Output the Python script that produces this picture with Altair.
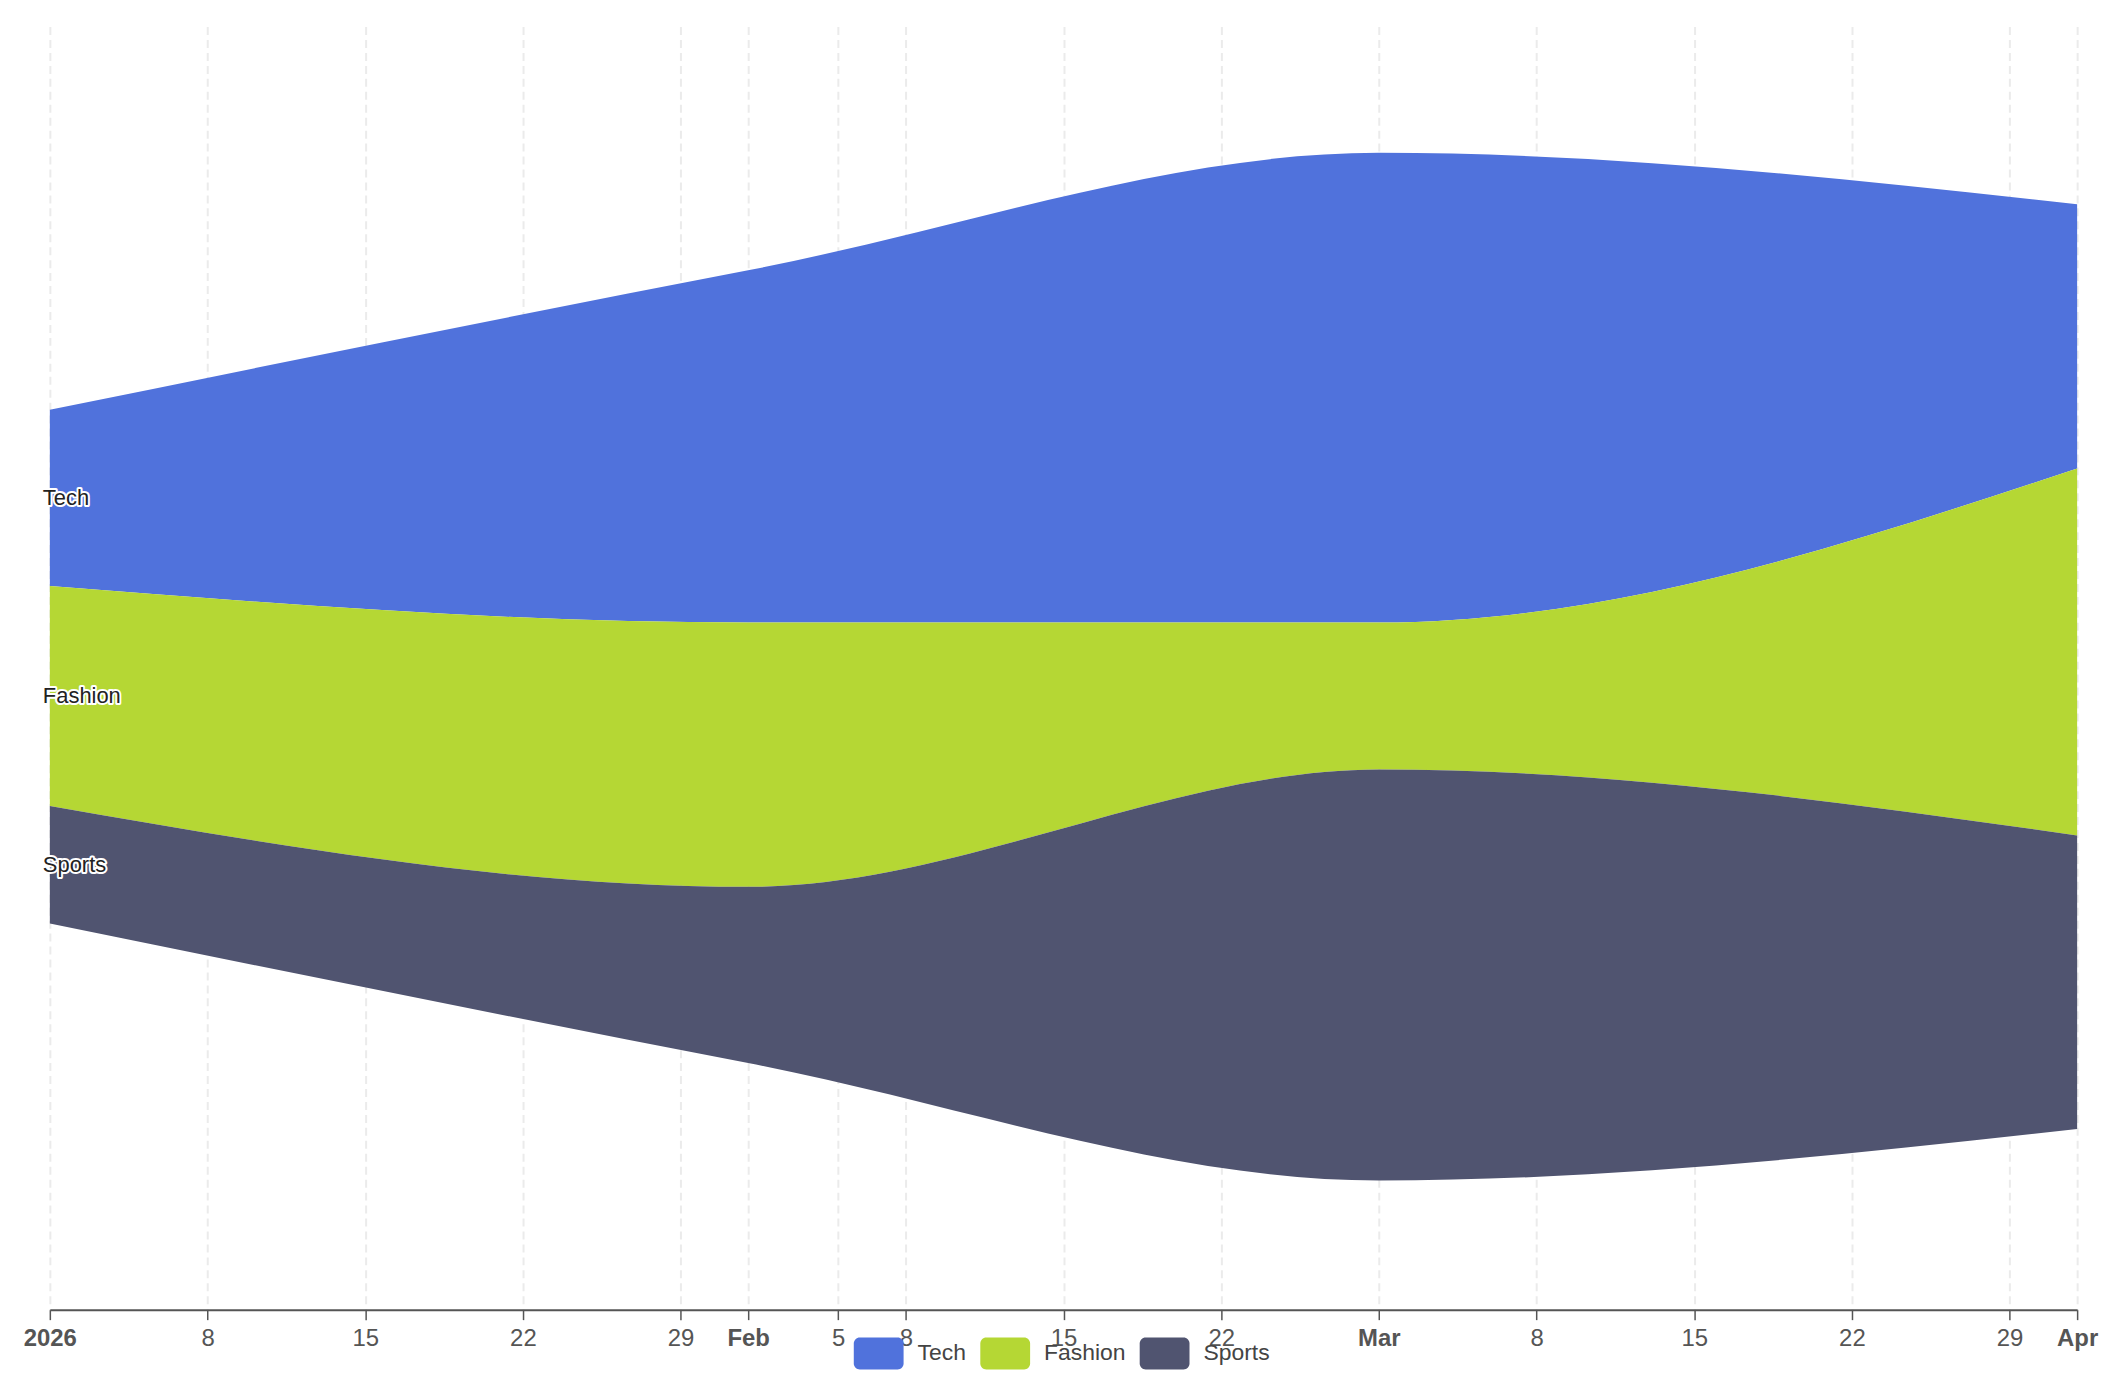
import altair as alt
import pandas as pd

# ---- data ----
day_index = [0, 31, 59, 90]          # Jan 1, Feb 1, Mar 1, Apr 1 2026 (days since Jan 1)
series_names = ["Tech", "Fashion", "Sports"]
tech = [120, 240, 320, 180]
fashion = [150, 180, 100, 250]
sports = [80, 120, 280, 200]
stack_order = {"Sports": 0, "Fashion": 1, "Tech": 2}
colors = ["#5072DC", "#B5D734", "#505470"]

tick_days = [0, 7, 14, 21, 28, 31, 35, 38, 45, 52, 59, 66, 73, 80, 87, 90]
tick_labels = ["2026", "8", "15", "22", "29", "Feb", "5", "8", "15", "22",
               "Mar", "8", "15", "22", "29", "Apr"]
bold_days = [0, 31, 59, 90]

rows = []
for name, vals in zip(series_names, [tech, fashion, sports]):
    for d, v in zip(day_index, vals):
        rows.append({"day": d, "series": name, "value": v, "order": stack_order[name]})
df = pd.DataFrame(rows)

FONT = "Liberation Sans"

days_js = "[" + ",".join(str(d) for d in tick_days) + "]"
labels_js = "[" + ",".join("'" + s + "'" for s in tick_labels) + "]"
bold_js = "[" + ",".join(str(d) for d in bold_days) + "]"

sym_path = ("M -0.76,-0.64 L 0.76,-0.64 A 0.24,0.24 0 0 1 1,-0.4 L 1,0.4 "
            "A 0.24,0.24 0 0 1 0.76,0.64 L -0.76,0.64 A 0.24,0.24 0 0 1 -1,0.4 "
            "L -1,-0.4 A 0.24,0.24 0 0 1 -0.76,-0.64 Z")

base = alt.Chart(df).transform_stack(
    stack="value",
    groupby=["day"],
    as_=["y0", "y1"],
    offset="center",
    sort=[alt.SortField("order", "ascending")],
)

x_enc = alt.X(
    "day:Q",
    scale=alt.Scale(domain=[0, 90], nice=False, zero=False),
    axis=alt.Axis(
        values=tick_days,
        labelExpr=f"{labels_js}[indexof({days_js}, datum.value)]",
        labelFontWeight={"condition": {"test": f"indexof({bold_js}, datum.value) >= 0",
                                       "value": "bold"},
                         "value": "normal"},
        title=None,
        grid=True,
        gridDash=[8, 5],
        gridColor="#ebebeb",
        gridWidth=2,
        domainColor="#555555",
        domainWidth=2,
        tickColor="#555555",
        tickWidth=1.5,
        tickSize=10,
        labelColor="#555555",
        labelFontSize=24,
        labelFont=FONT,
        labelPadding=7,
        labelFlush=False,
        labelOverlap=False,
    ),
)

y_scale = alt.Scale(domain=[-88, 786], nice=False, zero=False)

area = base.mark_area(interpolate="monotone", opacity=1).encode(
    x=x_enc,
    y=alt.Y("y1:Q", scale=y_scale, axis=None),
    y2="y0:Q",
    color=alt.Color(
        "series:N",
        scale=alt.Scale(domain=series_names, range=colors),
        legend=alt.Legend(
            orient="none",
            legendX=807,
            legendY=1307,
            direction="horizontal",
            title=None,
            symbolType=sym_path,
            symbolSize=2500,
            symbolStrokeWidth=0,
            symbolOpacity=1,
            labelFontSize=23,
            labelFont=FONT,
            labelColor="#444444",
            labelOffset=14,
            columnPadding=14,
            padding=0,
        ),
    ),
)

label_base = base.transform_filter("datum.day == 0").transform_calculate(
    mid="(datum.y0 + datum.y1) / 2"
)

halo = label_base.mark_text(
    align="left", baseline="middle", dx=-7, fontSize=22, font=FONT,
    stroke="white", strokeWidth=4, strokeJoin="round", fill="white",
).encode(
    x=alt.X("day:Q"),
    y=alt.Y("mid:Q", scale=y_scale, axis=None),
    text="series:N",
)

labels = label_base.mark_text(
    align="left", baseline="middle", dx=-7, fontSize=22, font=FONT, fill="#222222",
).encode(
    x=alt.X("day:Q"),
    y=alt.Y("mid:Q", scale=y_scale, axis=None),
    text="series:N",
)

chart = alt.layer(area, halo, labels).properties(
    width=2035,
    height=1288,
    padding={"left": 42, "top": 16, "right": 34, "bottom": 80},
    autosize=alt.AutoSizeParams(type="none"),
    background="white",
).configure_view(stroke=None)

chart.save("out.html", embed_options={"renderer": "svg", "actions": False})
